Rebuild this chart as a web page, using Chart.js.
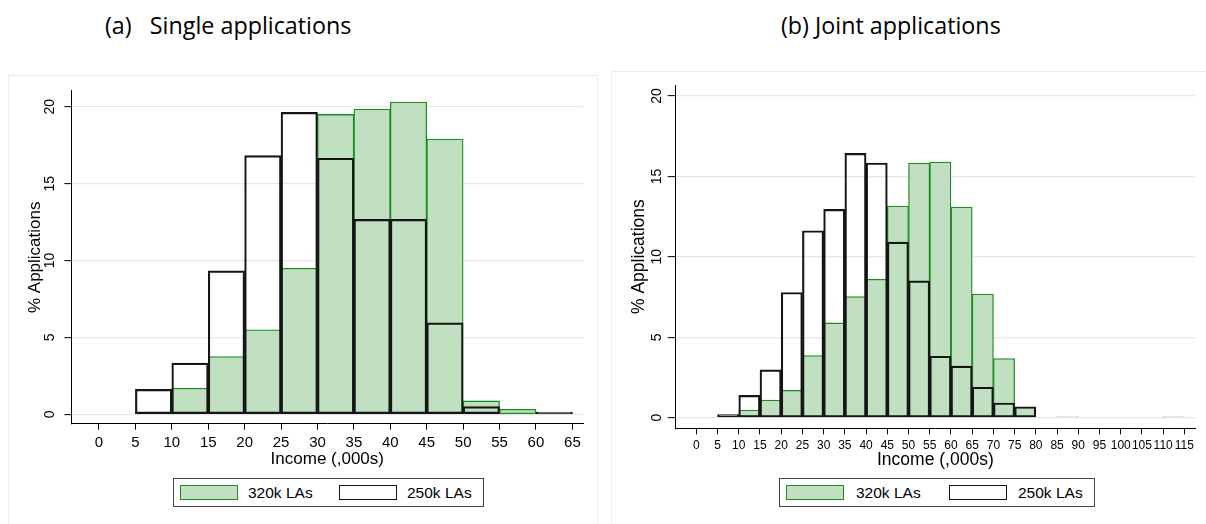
<!DOCTYPE html>
<html>
<head>
<meta charset="utf-8">
<script src="https://cdn.jsdelivr.net/npm/chart.js@4.4.1/dist/chart.umd.min.js"></script>
<style>
    body {
        margin: 0;
        width: 1206px;
        height: 524px;
        overflow: hidden;
        position: relative;
        background: #fff;
        font-family: "Liberation Sans", Arial, sans-serif;
        color: #000;
    }
    .title {
        position: absolute;
        top: 9px;
        font-family: "Open Sans", Lato, sans-serif;
        font-size: 23.3px;
        line-height: normal;
        white-space: pre;
    }
    .panel {
        position: absolute;
        border: 1px solid #ebebeb;
        height: 470px;
    }
    canvas { position: absolute; }
    .legend {
        position: absolute;
        top: 478px;
        height: 27px;
        border: 1px solid #444;
        font-size: 15.5px;
    }
    .legend .sw {
        position: absolute;
        top: 6px;
        width: 58px;
        height: 15px;
        box-sizing: border-box;
    }
    .legend .lbl {
        position: absolute;
        top: 5px;
        line-height: 17px;
    }
</style>
</head>
<body>
<div class="title" style="left:105px">(a)   Single applications</div>
<div class="title" style="left:781px">(b) Joint applications</div>

<div class="panel" style="left:8px; top:75px; width:588px"></div>
<div class="panel" style="left:611px; top:71px; width:600px"></div>

<canvas id="singleChart" width="588" height="395" style="left:9px; top:76px"></canvas>
<canvas id="jointChart" width="594" height="400" style="left:612px; top:72px"></canvas>

<div class="legend" id="singleLegend" style="left:173px; width:309px"></div>
<div class="legend" id="jointLegend" style="left:779px; width:314px"></div>

<script>
// bins are 5k wide, listed by their lower edge
const binWidth = 5;

// (a) Single applications
const singleBins = [5, 10, 15, 20, 25, 30, 35, 40, 45, 50, 55, 60];
const single320 = [0.1, 1.7, 3.75, 5.5, 9.5, 19.5, 19.85, 20.3, 17.9, 0.87, 0.32, 0.1];
const single250 = [1.62, 3.33, 9.33, 16.82, 19.63, 16.65, 12.68, 12.68, 5.95, 0.5, 0, 0.15];
const singleTicks = [0, 5, 10, 15, 20, 25, 30, 35, 40, 45, 50, 55, 60, 65];

// (b) Joint applications
const jointBins = [5, 10, 15, 20, 25, 30, 35, 40, 45, 50, 55, 60, 65, 70, 75, 80, 85, 90, 95, 100, 105, 110];
const joint320 = [0, 0.48, 1.1, 1.7, 3.86, 5.89, 7.53, 8.61, 13.15, 15.83, 15.89, 13.09, 7.68, 3.67, 0.64, 0, 0.05, 0, 0, 0, 0, 0.05];
const joint250 = [0.2, 1.39, 2.97, 7.78, 11.62, 12.95, 16.43, 15.83, 10.91, 8.5, 3.82, 3.2, 1.89, 0.91, 0.68, 0, 0, 0, 0, 0, 0, 0];
const jointTicks = [0, 5, 10, 15, 20, 25, 30, 35, 40, 45, 50, 55, 60, 65, 70, 75, 80, 85, 90, 95, 100, 105, 110, 115];

const yTicks = [0, 5, 10, 15, 20];
const seriesLabels = ['320k LAs', '250k LAs'];

const GREEN_FILL = 'rgb(193, 223, 193)';
const GREEN_LINE = 'rgb(30, 140, 30)';
const BLACK_LINE = '#151515';

function histPoints(bins, values) {
    return bins.map((start, i) => ({ x: start + binWidth / 2, y: values[i] || null }));
}

function makeHist(canvasId, bins, s320, s250, xTicks, g) {
    const ctx = document.getElementById(canvasId).getContext('2d');
    return new Chart(ctx, {
        type: 'bar',
        data: {
            datasets: [
                {
                    label: seriesLabels[0],
                    data: histPoints(bins, s320),
                    backgroundColor: GREEN_FILL,
                    borderColor: GREEN_LINE,
                    borderWidth: 1.3,
                    order: 1
                },
                {
                    label: seriesLabels[1],
                    data: histPoints(bins, s250),
                    backgroundColor: 'rgba(255,255,255,0)',
                    borderColor: BLACK_LINE,
                    borderWidth: 1.5,
                    order: 0
                }
            ]
        },
        options: {
            responsive: false,
            animation: false,
            devicePixelRatio: 1,
            layout: { padding: g.pad },
            datasets: {
                bar: { grouped: false, barPercentage: 1, categoryPercentage: 1, borderSkipped: false }
            },
            plugins: {
                legend: { display: false },
                tooltip: { enabled: false }
            },
            scales: {
                x: {
                    type: 'linear',
                    min: g.xMin,
                    max: g.xMax,
                    offset: false,
                    afterBuildTicks: s => { s.ticks = xTicks.map(v => ({ value: v })); },
                    afterFit: s => { s.height = g.xH; },
                    grid: { offset: false, drawOnChartArea: false, tickLength: 6, tickColor: '#000', tickWidth: 1 },
                    border: { color: '#000', width: 1 },
                    ticks: {
                        autoSkip: false, minRotation: 0, maxRotation: 0,
                        padding: g.xTickPad, color: '#000',
                        font: { family: '"Liberation Sans", Arial', size: g.xTickSize }
                    },
                    title: {
                        display: true, text: 'Income (,000s)', color: '#000',
                        font: { family: '"Liberation Sans", Arial', size: g.titleSize },
                        padding: { top: 0, bottom: g.xTitlePad }
                    }
                },
                y: {
                    min: g.yMin,
                    max: g.yMax,
                    afterBuildTicks: s => { s.ticks = yTicks.map(v => ({ value: v })); },
                    afterFit: s => { s.width = g.yW; },
                    grid: { color: '#e6e6e6', lineWidth: 1.3, tickLength: g.yTickLen, tickColor: '#000', tickWidth: 1 },
                    border: { color: '#000', width: 1 },
                    ticks: {
                        minRotation: 90, maxRotation: 90, crossAlign: 'center',
                        padding: g.yTickPad, color: '#000',
                        font: { family: '"Liberation Sans", Arial', size: 14 }
                    },
                    title: {
                        display: true, text: '% Applications', color: '#000',
                        font: { family: '"Liberation Sans", Arial', size: g.titleSize },
                        padding: { top: g.yTitlePad, bottom: 0 }
                    }
                }
            }
        }
    });
}

// HTML legend framed like the Stata one, built from the chart's own datasets
function renderLegend(chart, id, pos) {
    const box = document.getElementById(id);
    box.innerHTML = chart.data.datasets.map((ds, i) => `
        <div class="sw" style="left:${pos.sw[i]}px; background:${ds.backgroundColor}; border:${ds.borderWidth}px solid ${ds.borderColor}"></div>
        <div class="lbl" style="left:${pos.lbl[i]}px">${ds.label}</div>
    `).join('');
}

const singleChart = makeHist('singleChart', singleBins, single320, single250, singleTicks, {
    pad: { top: 14.7, right: 13.7, left: 0, bottom: 0 },
    xMin: -3.8, xMax: 66.5, yMin: -0.61, yMax: 21.03,
    xH: 47.3, yW: 62.3,
    xTickSize: 15, xTickPad: 4, xTitlePad: 1.1,
    yTickLen: 7, yTickPad: 6.5, yTitlePad: 15.8,
    titleSize: 17
});

const jointChart = makeHist('jointChart', jointBins, joint320, joint250, jointTicks, {
    pad: { top: 13, right: 11, left: 0, bottom: 0 },
    xMin: -4.86, xMax: 117.5, yMin: -0.66, yMax: 20.68,
    xH: 43.7, yW: 63.7,
    xTickSize: 12, xTickPad: 4, xTitlePad: 1.2,
    yTickLen: 8, yTickPad: 3, yTitlePad: 16.8,
    titleSize: 17.5
});

renderLegend(singleChart, 'singleLegend', { sw: [6, 165], lbl: [74, 233] });
renderLegend(jointChart, 'jointLegend', { sw: [6, 169], lbl: [76, 238] });
</script>
</body>
</html>
